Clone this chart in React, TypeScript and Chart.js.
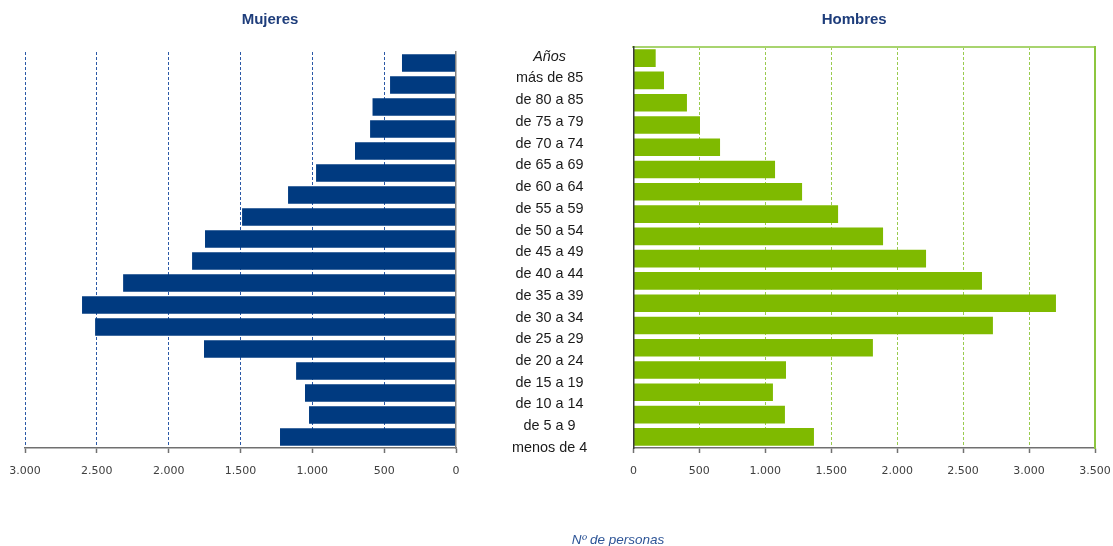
import React, { useEffect, useRef } from 'react';
import { Chart, registerables } from 'chart.js';

Chart.register(...registerables);

// ---------- data ----------
const axisHeader = 'Años';
const ageGroups = [
  'más de 85', 'de 80 a 85', 'de 75 a 79', 'de 70 a 74', 'de 65 a 69', 'de 60 a 64',
  'de 55 a 59', 'de 50 a 54', 'de 45 a 49', 'de 40 a 44', 'de 35 a 39', 'de 30 a 34',
  'de 25 a 29', 'de 20 a 24', 'de 15 a 19', 'de 10 a 14', 'de 5 a 9', 'menos de 4',
];
const mujeres = [376, 459, 581, 598, 703, 974, 1169, 1489, 1747, 1837, 2317, 2603, 2512, 1754, 1113, 1051, 1023, 1225];
const hombres = [169, 232, 406, 505, 657, 1074, 1279, 1552, 1893, 2219, 2643, 3204, 2726, 1816, 1157, 1058, 1149, 1369];
const mujeresAxis = [0, 3000, 500]; // min, max, step
const hombresAxis = [0, 3500, 500];
const titleMujeres = 'Mujeres';
const titleHombres = 'Hombres';
const axisTitle = 'Nº de personas';

// ---------- styles ----------
const SANS = "'Liberation Sans', Arial, sans-serif";
const TICK_FONT = { family: "'DejaVu Sans', Verdana, sans-serif", size: 11 };
const TITLE_FONT = { family: SANS, size: 15, weight: 'bold' as const };
const BLUE = '#003A80';
const GREEN = '#7FBA00';
const TITLE_COLOR = '#1E3D7B';
const AXIS_GRAY = '#707070';
const TRANSPARENT = 'rgba(0,0,0,0)';
const TICK_PAD = 12;

const fmt = (v: number | string) =>
  String(Math.round(Number(v))).replace(/\B(?=(\d{3})+(?!\d))/g, '.');

const W = 1113;
const H = 546;

const LEFT = { x: -4, w: 519 };
const MID = { x: 470, w: 254 };
const RIGHT = { x: 590, w: 534 };

export default function App() {
  const leftRef = useRef<HTMLCanvasElement>(null);
  const midRef = useRef<HTMLCanvasElement>(null);
  const rightRef = useRef<HTMLCanvasElement>(null);

  useEffect(() => {
    Chart.defaults.font.family = SANS;
    const charts: Chart[] = [];

    // ---- Mujeres (left) ----
    charts.push(
      new Chart(leftRef.current!, {
        type: 'bar',
        data: {
          labels: ageGroups,
          datasets: [
            {
              label: titleMujeres,
              data: mujeres,
              backgroundColor: BLUE,
              borderWidth: 0,
              barPercentage: 0.79,
              categoryPercentage: 1,
            },
          ],
        },
        options: {
          animation: false,
          responsive: false,
          maintainAspectRatio: false,
          indexAxis: 'y',
          layout: { padding: { left: 29, right: 0, top: 0, bottom: 68 } },
          plugins: {
            legend: { display: false },
            tooltip: { enabled: false },
            title: {
              display: true,
              text: titleMujeres,
              color: TITLE_COLOR,
              font: TITLE_FONT,
              padding: { top: 11, bottom: 23 },
            },
          },
          scales: {
            x: {
              type: 'linear',
              reverse: true,
              min: mujeresAxis[0],
              max: mujeresAxis[1],
              ticks: {
                stepSize: mujeresAxis[2],
                callback: (v: any) => fmt(v),
                color: '#404040',
                font: TICK_FONT,
                padding: TICK_PAD,
              },
              grid: {
                color: (ctx: any) => (ctx.tick && ctx.tick.value === 0 ? TRANSPARENT : '#2A58A6'),
                lineWidth: 1,
                tickColor: AXIS_GRAY,
                tickLength: 5,
                tickWidth: 1.5,
                tickBorderDash: [],
              },
              border: { display: true, color: AXIS_GRAY, width: 1.5, dash: [3, 2] },
              afterFit: (s: any) => {
                s.height = 30;
              },
            },
            y: {
              position: 'right',
              ticks: { display: false },
              grid: { display: false, drawTicks: false },
              border: { display: true, color: '#808080', width: 1.5, z: 1 },
              afterFit: (s: any) => {
                s.width = 59;
              },
            },
          },
        },
      } as any)
    );

    // ---- middle labels ----
    const midLabels = [axisHeader, ...ageGroups];
    charts.push(
      new Chart(midRef.current!, {
        type: 'bar',
        data: { labels: midLabels, datasets: [] },
        options: {
          animation: false,
          responsive: false,
          maintainAspectRatio: false,
          indexAxis: 'y',
          layout: { padding: { left: 42, right: 0, top: 56.7, bottom: 0 } },
          plugins: {
            legend: { display: false },
            tooltip: { enabled: false },
            subtitle: {
              display: true,
              text: axisTitle,
              position: 'bottom',
              color: '#2E5597',
              font: { family: SANS, size: 13.5, style: 'italic' },
              padding: { top: 84, bottom: -2.2 },
            },
          },
          scales: {
            x: { display: false },
            y: {
              type: 'category',
              offset: false,
              position: 'left',
              grid: { display: false, drawTicks: false },
              border: { display: false },
              ticks: {
                autoSkip: false,
                crossAlign: 'center',
                padding: 0,
                color: '#1A1A1A',
                font: (ctx: any) =>
                  ctx.index === 0
                    ? { family: SANS, size: 14.4, style: 'italic' }
                    : { family: SANS, size: 14.4 },
              },
            },
          },
        },
      } as any)
    );

    // ---- Hombres (right) ----
    charts.push(
      new Chart(rightRef.current!, {
        type: 'bar',
        data: {
          labels: ageGroups,
          datasets: [
            {
              label: titleHombres,
              data: hombres,
              backgroundColor: GREEN,
              borderWidth: 0,
              barPercentage: 0.79,
              categoryPercentage: 1,
            },
          ],
        },
        options: {
          animation: false,
          responsive: false,
          maintainAspectRatio: false,
          indexAxis: 'y',
          layout: { padding: { left: 23.4, right: 29, top: 0, bottom: 68 } },
          plugins: {
            legend: { display: false },
            tooltip: { enabled: false },
            title: {
              display: true,
              text: titleHombres,
              color: TITLE_COLOR,
              font: TITLE_FONT,
              padding: { top: 11, bottom: 18 },
            },
          },
          scales: {
            x: {
              type: 'linear',
              min: hombresAxis[0],
              max: hombresAxis[1],
              ticks: {
                stepSize: hombresAxis[2],
                callback: (v: any) => fmt(v),
                color: '#404040',
                font: TICK_FONT,
                padding: TICK_PAD,
              },
              grid: {
                color: (ctx: any) =>
                  ctx.tick && (ctx.tick.value === hombresAxis[0] || ctx.tick.value === hombresAxis[1])
                    ? TRANSPARENT
                    : '#9ACB4F',
                lineWidth: 1,
                tickColor: AXIS_GRAY,
                tickLength: 5,
                tickWidth: 1.5,
                tickBorderDash: [],
              },
              border: { display: true, color: AXIS_GRAY, width: 1.5, dash: [3, 2] },
              afterFit: (s: any) => {
                s.height = 30;
              },
            },
            xTop: {
              axis: 'x',
              type: 'linear',
              position: 'top',
              min: hombresAxis[0],
              max: hombresAxis[1],
              ticks: { display: false },
              grid: { display: false, drawTicks: false },
              border: { display: true, color: '#A8D46F', width: 2 },
              afterFit: (s: any) => {
                s.height = 0;
              },
            },
            y: {
              position: 'left',
              ticks: { display: false },
              grid: { display: false, drawTicks: false },
              border: { display: true, color: '#3A3A3A', width: 1.5, z: 1 },
              afterFit: (s: any) => {
                s.width = 20;
              },
            },
            yRight: {
              axis: 'y',
              type: 'linear',
              position: 'right',
              ticks: { display: false },
              grid: { display: false, drawTicks: false },
              border: { display: true, color: '#8DC63F', width: 2 },
              afterFit: (s: any) => {
                s.width = 0;
              },
            },
          },
        },
      } as any)
    );

    return () => {
      charts.forEach((c) => c.destroy());
    };
  }, []);

  const canvasStyle = (x: number, w: number): React.CSSProperties => ({
    position: 'absolute',
    left: x,
    top: 0,
    width: w,
    height: H,
  });

  return (
    <div
      style={{
        position: 'fixed',
        left: 0,
        top: 0,
        width: W,
        height: H,
        overflow: 'hidden',
        background: '#ffffff',
      }}
    >
      <canvas ref={leftRef} width={LEFT.w} height={H} style={canvasStyle(LEFT.x, LEFT.w)} />
      <canvas ref={midRef} width={MID.w} height={H} style={canvasStyle(MID.x, MID.w)} />
      <canvas ref={rightRef} width={RIGHT.w} height={H} style={canvasStyle(RIGHT.x, RIGHT.w)} />
    </div>
  );
}
